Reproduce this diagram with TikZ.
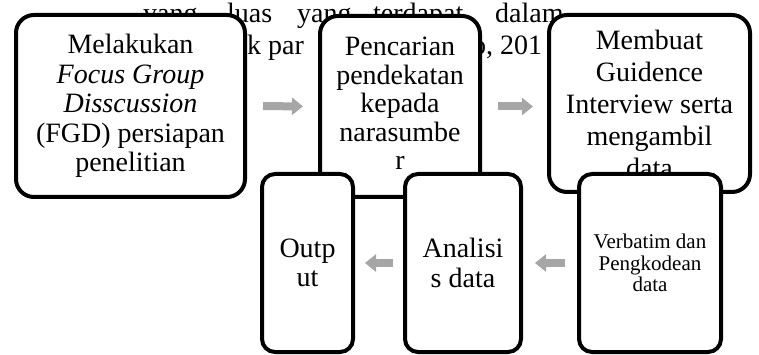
\documentclass[tikz,border=0pt]{standalone}
\usepackage{fontspec}
\setmainfont{Liberation Serif}
\usetikzlibrary{arrows.meta}
\definecolor{arrowgray}{HTML}{A6A6A6}

\begin{document}
\begin{tikzpicture}[
  x=1pt, y=-1pt,
  stepbox/.style={
    draw, line width=4pt, fill=white, rounded corners=18pt,
    inner sep=0pt, align=center,
    font=\fontsize{28}{29.5}\selectfont
  },
  lowbox/.style={
    stepbox, rounded corners=13pt
  },
  bgtext/.style={
    anchor=base west, inner sep=0pt,
    font=\fontsize{28}{29.5}\selectfont
  },
  flow/.style={
    draw=arrowgray, line width=8pt,
    -{Triangle[length=11pt, width=17pt]}
  }
]

% page frame
\useasboundingbox (0,0) rectangle (759,355);
\clip (0,0) rectangle (759,355);

% running text of the page behind the chart
\def\lineA{22.5}
\def\lineB{55}
\node[bgtext] (w1) at (143,\lineA) {yang};
\node[bgtext] (w2) at (227,\lineA) {luas};
\node[bgtext] (w3) at (297,\lineA) {yang};
\node[bgtext] (w4) at (373,\lineA) {terdapat};
\node[bgtext] (w5) at (495,\lineA) {dalam};
\node[bgtext] (w6) at (233,\lineB) {ok par};
\node[bgtext] (w7) at (472,\lineB) {o, 201};

% upper row
\node[stepbox, minimum width=229pt, minimum height=182pt] (fgd) at (130.5,106)
  {Melakukan\\ \textit{Focus Group}\\ \textit{Disscussion}\\ (FGD) persiapan\\ penelitian};
\node[stepbox, minimum width=160pt, minimum height=181pt,
      font=\fontsize{28}{28.5}\selectfont] (cari) at (400,106.5)
  {Pencarian\\ pendekatan\\ kepada\\ narasumbe\\ r\rule[-6pt]{0pt}{0pt}};
\node[stepbox, minimum width=201pt, minimum height=177pt,
      font=\fontsize{28}{32}\selectfont] (guide) at (649.5,103.5)
  {Membuat\\ Guidence\\ Interview serta\\ mengambil\\ data};

% arrows of the upper row
\draw[flow, shorten <=16pt, shorten >=15pt] (fgd.east) -- (cari.west);
\draw[flow, shorten <=16pt, shorten >=14pt] (cari.east) -- (cari.east -| guide.west);

% lower row
\node[lowbox, minimum width=91pt, minimum height=178pt] (output) at (307.5,263)
  {Outp\\ut};
\node[lowbox, minimum width=116pt, minimum height=178pt] (analisis) at (463,263)
  {Analisi\\s data};
\node[lowbox, minimum width=142pt, minimum height=178pt,
      font=\fontsize{21}{21.5}\selectfont] (verbatim) at (650,263)
  {Verbatim dan\\ Pengkodean\\ data};

% arrows of the lower row
\draw[flow, shorten <=12pt, shorten >=12pt] (verbatim.west) -- (analisis.east);
\draw[flow, shorten <=10pt, shorten >=10pt] (analisis.west) -- (output.east);

\end{tikzpicture}
\end{document}
